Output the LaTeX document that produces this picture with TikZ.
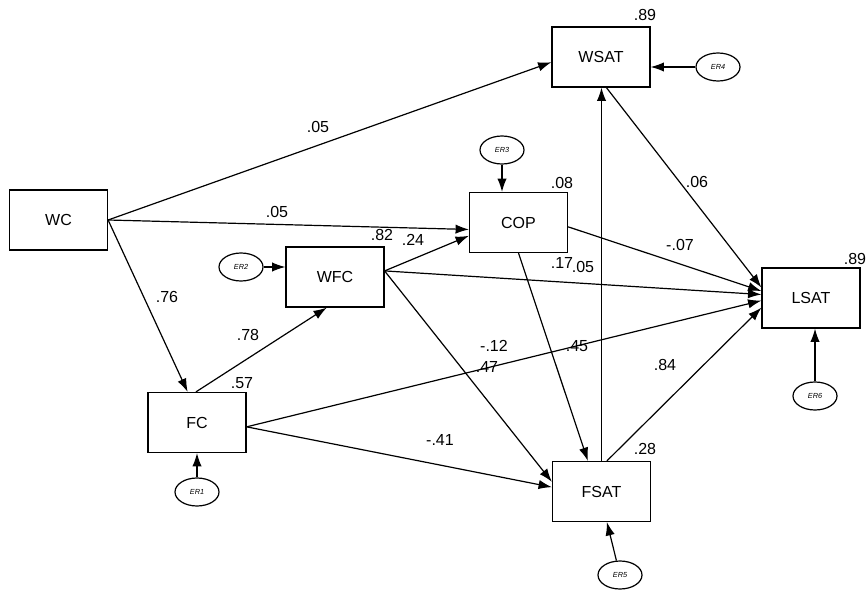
\documentclass[tikz,border=0pt]{standalone}
\usepackage{fontspec}
\setmainfont{Liberation Sans}
\usetikzlibrary{arrows.meta, shapes.geometric}

\tikzset{
    var/.style={draw, line width=0.9pt, minimum width=73.5pt, minimum height=45pt,
        font=\fontsize{12}{14}\selectfont},
    err/.style={draw, line width=0.9pt, ellipse, minimum width=33pt, minimum height=21pt,
        inner sep=0pt, font=\fontsize{5.5}{6}\selectfont\itshape},
    effect/.style={line width=0.9pt, -{Latex[length=10pt, width=7pt]}},
    coef/.style={inner sep=1pt, font=\fontsize{12}{14}\selectfont},
}

\begin{document}
\begin{tikzpicture}[x=0.75pt, y=-0.75pt]
        \useasboundingbox (0, 0) rectangle (866, 591);
        % observed variables
        \node[var] (wc) at (58.5, 220) {WC};
        \node[var] (wsat) at (601, 57) {WSAT};
        \node[var] (cop) at (518.5, 222.5) {COP};
        \node[var] (wfc) at (335, 277) {WFC};
        \node[var] (fc) at (197, 422.5) {FC};
        \node[var] (fsat) at (601.5, 491.5) {FSAT};
        \node[var] (lsat) at (811, 298) {LSAT};
        % error terms
        \node[err] (er1) at (197, 492) {ER1};
        \node[err] (er2) at (241, 267) {ER2};
        \node[err] (er3) at (502, 150) {ER3};
        \node[err] (er4) at (718, 67) {ER4};
        \node[err] (er5) at (620, 575) {ER5};
        \node[err] (er6) at (815, 396) {ER6};
        \draw[effect] (er1) -- (fc.south);
        \draw[effect] (er2.east) -- (er2.east -| wfc.west);
        \draw[effect] (er3) -- (er3 |- cop.north);
        \draw[effect] (er4) -- (er4 -| wsat.east);
        \draw[effect] (er5) -- (fsat.-80);
        \draw[effect] (er6) -- (er6 |- lsat.south);
        % paths
        \draw[effect] (wc.east) -- (wsat.186);
        \draw[effect] (wc.east) -- (cop.188);
        \draw[effect] (wc.east) -- (fc.107);
        \draw[effect] (fc.92) -- (wfc.-105);
        \draw[effect] (wfc.7) -- (cop.195);
        \draw[effect] (wfc.7) -- (lsat.176);
        \draw[effect] (wfc.7) -- (fsat.169);
        \draw[effect] (fc.-5) -- (fsat.175);
        \draw[effect] (fc.-5) -- (lsat.183);
        \draw[effect] (cop.south) -- (fsat.114);
        \draw[effect] (cop.-5) -- (lsat.172);
        \draw[effect] (fsat.north) -- (fsat.north |- wsat.south);
        \draw[effect] (wsat.-80) -- (lsat.168);
        \draw[effect] (fsat.80) -- (lsat.191);
        % path coefficients
        \node[coef] (b-wc-wsat) at (318, 127) {.05};
        \node[coef] (b-wc-cop) at (277, 212) {.05};
        \node[coef] (b-wc-fc) at (167, 297) {.76};
        \node[coef] (b-fc-wfc) at (248, 335) {.78};
        \node[coef] (b-wfc-cop) at (413, 240) {.24};
        \node[coef] (b-fsat-wsat) at (562, 263) {.17};
        \node[coef] (b-wfc-lsat) at (583, 267) {.05};
        \node[coef] (b-wfc-fsat) at (487, 367) {.47};
        \node[coef] (b-fc-lsat) at (494, 346) {-.12};
        \node[coef] (b-cop-fsat) at (577, 346) {.45};
        \node[coef] (b-fc-fsat) at (440, 440) {-.41};
        \node[coef] (b-cop-lsat) at (680, 245) {-.07};
        \node[coef] (b-wsat-lsat) at (697, 182) {.06};
        \node[coef] (b-fsat-lsat) at (665, 365) {.84};
        % squared multiple correlations
        \node[coef] (r-wsat) at (645, 15) {.89};
        \node[coef] (r-cop) at (562, 183) {.08};
        \node[coef] (r-wfc) at (382, 235) {.82};
        \node[coef] (r-fc) at (242, 383) {.57};
        \node[coef] (r-fsat) at (645, 449) {.28};
        \node[coef] (r-lsat) at (855, 259) {.89};
\end{tikzpicture}
\end{document}
